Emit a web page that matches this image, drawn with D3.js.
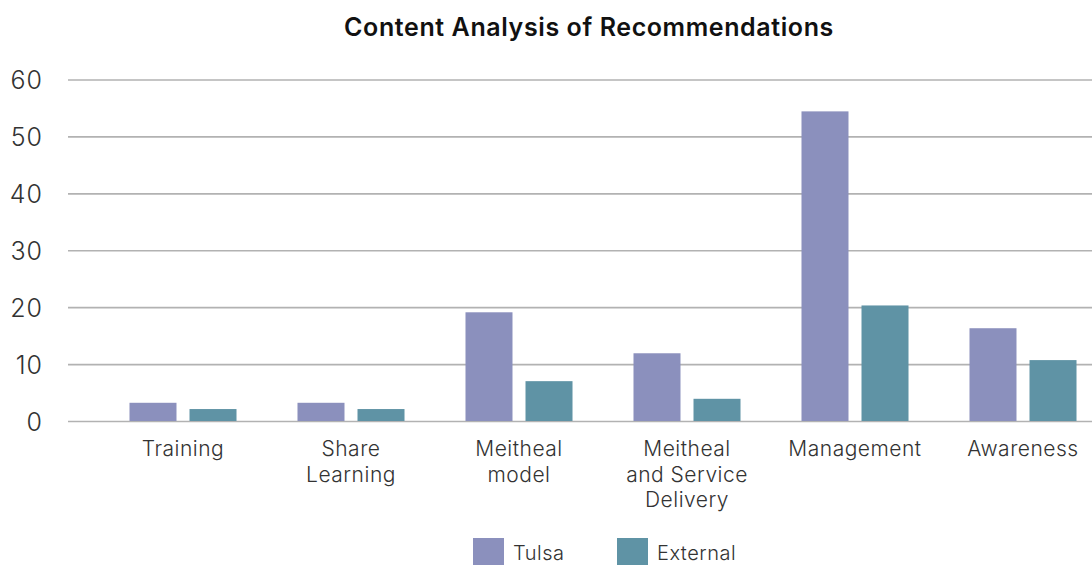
<!DOCTYPE html>
<html>
<head>
<meta charset="utf-8">
<script src="https://cdn.jsdelivr.net/npm/d3@7"></script>
<style>
  html, body { margin: 0; padding: 0; background: #fff; }
  svg { display: block; }
  text { font-family: "Inter", "Lato", "Open Sans", sans-serif; }
</style>
</head>
<body>
<svg id="chart" width="1092" height="565"></svg>
<script>
// Recommendation themes, each label split into display lines
const categories = ["Training", "Share Learning", "Meitheal model", "Meitheal and Service Delivery", "Management", "Awareness"];
const categoryLines = [["Training"], ["Share", "Learning"], ["Meitheal", "model"], ["Meitheal", "and Service", "Delivery"], ["Management"], ["Awareness"]];
const seriesNames = ["Tulsa", "External"];
const tulsa = [3.2, 3.2, 19.1, 11.9, 54.4, 16.3];
const external = [2.1, 2.1, 7.0, 3.9, 20.3, 10.7];
const yTicks = [0, 10, 20, 30, 40, 50, 60];
const colors = ["#8b90bd", "#5f93a5"];

const svg = d3.select("#chart");
const W = 1092;
const plotTop = 79.5, plotBottom = 421;

const y = d3.scaleLinear().domain([0, 60]).range([plotBottom, plotTop]);

const x0 = d3.scaleBand()
  .domain(categories)
  .range([99, 1107])
  .paddingInner(0.363)
  .paddingOuter(0.1815);

const x1 = d3.scaleBand()
  .domain(seriesNames)
  .range([0, x0.bandwidth()])
  .paddingInner(0.2167)
  .paddingOuter(0);

const color = d3.scaleOrdinal().domain(seriesNames).range(colors);

// Title
svg.append("text")
  .attr("x", 589)
  .attr("y", 36)
  .attr("text-anchor", "middle")
  .attr("font-size", 25)
  .attr("font-weight", 600)
  .attr("letter-spacing", 0.6)
  .attr("fill", "#111")
  .text("Content Analysis of Recommendations");

// Horizontal gridlines and value axis labels
const yAxis = d3.axisLeft(y)
  .tickValues(yTicks)
  .tickSize(-(W - 68))
  .tickPadding(25);

const gy = svg.append("g")
  .attr("transform", "translate(68,0)")
  .call(yAxis);
gy.select(".domain").remove();
gy.selectAll(".tick line")
  .attr("stroke", "#b2b2b2")
  .attr("stroke-width", 1.6);
gy.selectAll(".tick text")
  .attr("font-size", 25)
  .attr("font-weight", 300)
  .attr("letter-spacing", 1)
  .attr("fill", "#333")
  .attr("dy", "0.36em");

// Grouped bars
const rows = categories.map((c, i) => ({ cat: c, values: [tulsa[i], external[i]] }));

const groups = svg.append("g")
  .selectAll("g")
  .data(rows)
  .join("g")
  .attr("transform", d => `translate(${x0(d.cat)},0)`);

groups.selectAll("rect")
  .data(d => seriesNames.map((s, j) => ({ series: s, value: d.values[j] })))
  .join("rect")
  .attr("x", d => x1(d.series))
  .attr("width", x1.bandwidth())
  .attr("y", d => y(d.value))
  .attr("height", d => y(0) - y(d.value))
  .attr("fill", d => color(d.series));

// Category labels under each group
const labels = svg.append("g")
  .selectAll("text")
  .data(categories)
  .join("text")
  .attr("x", d => x0(d) + x0.bandwidth() / 2)
  .attr("y", 456)
  .attr("text-anchor", "middle")
  .attr("font-size", 21)
  .attr("font-weight", 300)
  .attr("letter-spacing", 0.5)
  .attr("fill", "#333");

labels.each(function(d, i) {
  const t = d3.select(this);
  categoryLines[i].forEach((line, k) => {
    t.append("tspan")
      .attr("x", x0(d) + x0.bandwidth() / 2)
      .attr("dy", k === 0 ? 0 : 25.5)
      .text(line);
  });
});

// Legend
const legendX = [473, 617];
const legend = svg.append("g")
  .selectAll("g")
  .data(seriesNames)
  .join("g")
  .attr("transform", (d, i) => `translate(${legendX[i]},538)`);

legend.append("rect")
  .attr("width", 31)
  .attr("height", 27)
  .attr("fill", d => color(d));

legend.append("text")
  .attr("x", 40)
  .attr("y", 22)
  .attr("font-size", 20)
  .attr("font-weight", 300)
  .attr("letter-spacing", 0.5)
  .attr("fill", "#333")
  .text(d => d);
</script>
</body>
</html>
